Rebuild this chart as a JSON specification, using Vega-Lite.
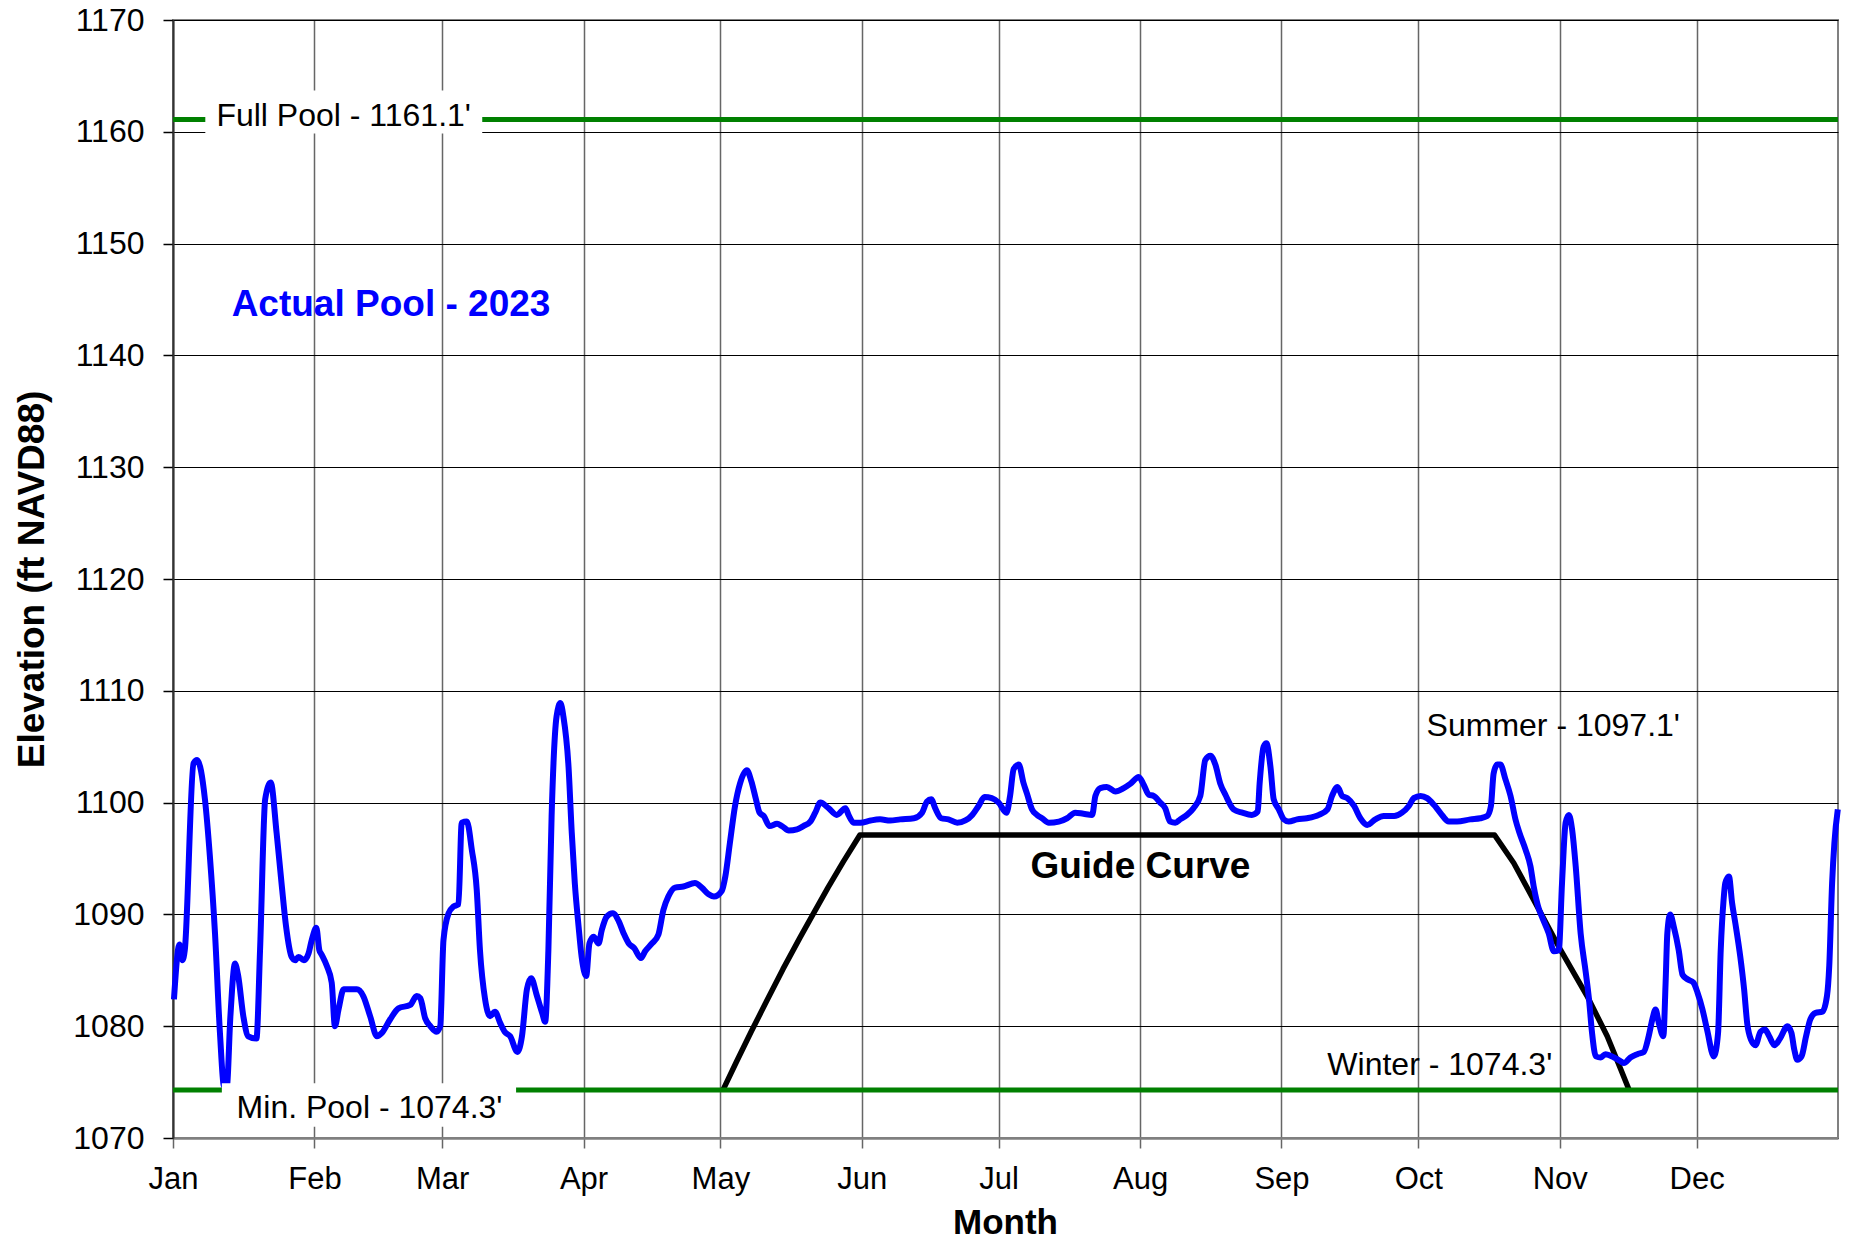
{
  "$schema": "https://vega.github.io/schema/vega-lite/v6.json",
  "width": 1665,
  "height": 1118,
  "autosize": {"type": "none"},
  "padding": {"left": 173, "top": 20, "right": 11, "bottom": 101},
  "background": "white",
  "config": {"font": "Liberation Sans", "view": {"stroke": "#808080", "strokeWidth": 2}},
  "datasets": {
    "pool": [
      {"t":"2023-01-01T05:00Z","v":1082.4},{"t":"2023-01-02T10:00Z","v":1087.3},{"t":"2023-01-03T02:00Z","v":1085.9},{"t":"2023-01-03T14:00Z","v":1086.8},
      {"t":"2023-01-05T12:00Z","v":1103.5},{"t":"2023-01-06T07:00Z","v":1103.8},{"t":"2023-01-08T00:00Z","v":1100.3},{"t":"2023-01-09T02:00Z","v":1095.2},
      {"t":"2023-01-10T05:00Z","v":1088.3},{"t":"2023-01-11T07:00Z","v":1079.4},{"t":"2023-01-12T05:00Z","v":1074.6},{"t":"2023-01-12T19:00Z","v":1074.6},
      {"t":"2023-01-13T14:00Z","v":1080.9},{"t":"2023-01-14T14:00Z","v":1085.6},{"t":"2023-01-15T07:00Z","v":1084.5},{"t":"2023-01-16T10:00Z","v":1080.9},
      {"t":"2023-01-17T12:00Z","v":1079.1},{"t":"2023-01-19T07:00Z","v":1078.9},{"t":"2023-01-20T02:00Z","v":1086.8},{"t":"2023-01-21T05:00Z","v":1100.3},
      {"t":"2023-01-22T10:00Z","v":1101.8},{"t":"2023-01-23T17:00Z","v":1097.3},{"t":"2023-01-24T19:00Z","v":1092.8},{"t":"2023-01-25T19:00Z","v":1088.9},
      {"t":"2023-01-27T00:00Z","v":1086.2},{"t":"2023-01-27T19:00Z","v":1085.9},{"t":"2023-01-28T12:00Z","v":1086.2},{"t":"2023-01-29T17:00Z","v":1085.9},
      {"t":"2023-01-30T17:00Z","v":1086.5},{"t":"2023-01-31T10:00Z","v":1087.7},{"t":"2023-02-01T10:00Z","v":1088.8},{"t":"2023-02-02T02:00Z","v":1086.8},
      {"t":"2023-02-02T14:00Z","v":1086.4},{"t":"2023-02-03T17:00Z","v":1085.4},{"t":"2023-02-04T19:00Z","v":1083.9},{"t":"2023-02-05T12:00Z","v":1080.0},
      {"t":"2023-02-06T07:00Z","v":1081.5},{"t":"2023-02-07T10:00Z","v":1083.3},{"t":"2023-02-08T12:00Z","v":1083.3},{"t":"2023-02-10T07:00Z","v":1083.3},
      {"t":"2023-02-11T17:00Z","v":1082.7},{"t":"2023-02-13T05:00Z","v":1080.9},{"t":"2023-02-14T17:00Z","v":1079.1},{"t":"2023-02-15T19:00Z","v":1079.4},
      {"t":"2023-02-17T14:00Z","v":1080.6},{"t":"2023-02-19T10:00Z","v":1081.6},{"t":"2023-02-22T00:00Z","v":1081.9},{"t":"2023-02-23T10:00Z","v":1082.7},
      {"t":"2023-02-24T05:00Z","v":1082.5},{"t":"2023-02-25T07:00Z","v":1080.7},{"t":"2023-02-26T10:00Z","v":1080.0},{"t":"2023-02-27T19:00Z","v":1079.5},
      {"t":"2023-02-28T14:00Z","v":1080.0},{"t":"2023-03-01T07:00Z","v":1087.7},{"t":"2023-03-02T10:00Z","v":1090.1},{"t":"2023-03-03T12:00Z","v":1090.7},
      {"t":"2023-03-04T14:00Z","v":1090.9},{"t":"2023-03-05T07:00Z","v":1098.2},{"t":"2023-03-06T10:00Z","v":1098.3},{"t":"2023-03-07T12:00Z","v":1095.8},
      {"t":"2023-03-08T14:00Z","v":1092.2},{"t":"2023-03-09T07:00Z","v":1086.8},{"t":"2023-03-10T10:00Z","v":1082.4},{"t":"2023-03-11T12:00Z","v":1080.9},
      {"t":"2023-03-12T14:00Z","v":1081.3},{"t":"2023-03-13T17:00Z","v":1080.3},{"t":"2023-03-14T17:00Z","v":1079.5},{"t":"2023-03-15T22:00Z","v":1079.1},
      {"t":"2023-03-17T12:00Z","v":1077.7},{"t":"2023-03-18T12:00Z","v":1079.1},{"t":"2023-03-19T14:00Z","v":1083.3},{"t":"2023-03-20T12:00Z","v":1084.3},
      {"t":"2023-03-21T19:00Z","v":1082.7},{"t":"2023-03-22T22:00Z","v":1081.2},{"t":"2023-03-23T14:00Z","v":1080.4},{"t":"2023-03-24T07:00Z","v":1086.8},
      {"t":"2023-03-25T00:00Z","v":1098.8},{"t":"2023-03-26T02:00Z","v":1107.7},{"t":"2023-03-26T22:00Z","v":1108.9},{"t":"2023-03-27T14:00Z","v":1107.7},
      {"t":"2023-03-28T17:00Z","v":1103.2},{"t":"2023-03-29T10:00Z","v":1097.3},{"t":"2023-03-30T02:00Z","v":1092.8},{"t":"2023-03-30T22:00Z","v":1088.9},
      {"t":"2023-03-31T14:00Z","v":1086.2},{"t":"2023-04-01T14:00Z","v":1084.5},{"t":"2023-04-02T07:00Z","v":1087.4},{"t":"2023-04-03T05:00Z","v":1088.0},
      {"t":"2023-04-04T07:00Z","v":1087.4},{"t":"2023-04-05T00:00Z","v":1088.6},{"t":"2023-04-06T02:00Z","v":1089.8},{"t":"2023-04-07T10:00Z","v":1090.1},
      {"t":"2023-04-08T17:00Z","v":1089.4},{"t":"2023-04-09T19:00Z","v":1088.3},{"t":"2023-04-10T22:00Z","v":1087.4},{"t":"2023-04-12T02:00Z","v":1087.0},
      {"t":"2023-04-13T14:00Z","v":1086.1},{"t":"2023-04-14T12:00Z","v":1086.7},{"t":"2023-04-16T00:00Z","v":1087.4},{"t":"2023-04-17T10:00Z","v":1088.2},
      {"t":"2023-04-18T12:00Z","v":1090.4},{"t":"2023-04-19T14:00Z","v":1091.6},{"t":"2023-04-21T02:00Z","v":1092.4},{"t":"2023-04-22T22:00Z","v":1092.5},
      {"t":"2023-04-25T10:00Z","v":1092.8},{"t":"2023-04-26T22:00Z","v":1092.4},{"t":"2023-04-28T10:00Z","v":1091.8},{"t":"2023-04-29T14:00Z","v":1091.6},
      {"t":"2023-05-01T07:00Z","v":1092.1},{"t":"2023-05-02T02:00Z","v":1093.4},{"t":"2023-05-03T02:00Z","v":1096.4},{"t":"2023-05-04T05:00Z","v":1099.7},
      {"t":"2023-05-05T07:00Z","v":1101.7},{"t":"2023-05-06T19:00Z","v":1102.9},{"t":"2023-05-07T19:00Z","v":1101.9},{"t":"2023-05-08T19:00Z","v":1100.3},
      {"t":"2023-05-09T14:00Z","v":1099.1},{"t":"2023-05-10T12:00Z","v":1098.8},{"t":"2023-05-11T19:00Z","v":1097.9},{"t":"2023-05-13T10:00Z","v":1098.1},
      {"t":"2023-05-14T12:00Z","v":1097.9},{"t":"2023-05-16T00:00Z","v":1097.5},{"t":"2023-05-17T19:00Z","v":1097.6},{"t":"2023-05-19T05:00Z","v":1097.9},
      {"t":"2023-05-20T17:00Z","v":1098.3},{"t":"2023-05-21T19:00Z","v":1099.1},{"t":"2023-05-22T22:00Z","v":1100.0},{"t":"2023-05-24T17:00Z","v":1099.5},
      {"t":"2023-05-26T12:00Z","v":1098.9},{"t":"2023-05-28T10:00Z","v":1099.5},{"t":"2023-05-29T02:00Z","v":1098.9},{"t":"2023-05-30T05:00Z","v":1098.2},
      {"t":"2023-05-31T17:00Z","v":1098.2},{"t":"2023-06-02T22:00Z","v":1098.4},{"t":"2023-06-05T00:00Z","v":1098.5},{"t":"2023-06-07T05:00Z","v":1098.4},
      {"t":"2023-06-09T10:00Z","v":1098.5},{"t":"2023-06-12T10:00Z","v":1098.6},{"t":"2023-06-14T05:00Z","v":1099.1},{"t":"2023-06-15T07:00Z","v":1100.1},
      {"t":"2023-06-16T05:00Z","v":1100.3},{"t":"2023-06-17T02:00Z","v":1099.5},{"t":"2023-06-18T10:00Z","v":1098.6},{"t":"2023-06-20T00:00Z","v":1098.5},
      {"t":"2023-06-21T22:00Z","v":1098.2},{"t":"2023-06-23T17:00Z","v":1098.4},{"t":"2023-06-25T05:00Z","v":1098.9},{"t":"2023-06-26T14:00Z","v":1099.7},
      {"t":"2023-06-27T22:00Z","v":1100.5},{"t":"2023-06-29T12:00Z","v":1100.4},{"t":"2023-07-01T00:00Z","v":1100.0},{"t":"2023-07-02T17:00Z","v":1099.1},
      {"t":"2023-07-03T12:00Z","v":1100.6},{"t":"2023-07-04T07:00Z","v":1103.0},{"t":"2023-07-05T10:00Z","v":1103.4},{"t":"2023-07-06T10:00Z","v":1101.8},
      {"t":"2023-07-07T05:00Z","v":1100.8},{"t":"2023-07-08T07:00Z","v":1099.4},{"t":"2023-07-09T10:00Z","v":1098.9},{"t":"2023-07-10T12:00Z","v":1098.6},
      {"t":"2023-07-12T00:00Z","v":1098.2},{"t":"2023-07-14T05:00Z","v":1098.3},{"t":"2023-07-16T00:00Z","v":1098.6},{"t":"2023-07-17T19:00Z","v":1099.1},
      {"t":"2023-07-19T14:00Z","v":1099.0},{"t":"2023-07-21T12:00Z","v":1098.9},{"t":"2023-07-22T05:00Z","v":1100.6},{"t":"2023-07-23T07:00Z","v":1101.3},
      {"t":"2023-07-24T17:00Z","v":1101.4},{"t":"2023-07-26T14:00Z","v":1101.0},{"t":"2023-07-28T10:00Z","v":1101.3},{"t":"2023-07-29T22:00Z","v":1101.7},
      {"t":"2023-07-31T17:00Z","v":1102.3},{"t":"2023-08-01T19:00Z","v":1101.6},{"t":"2023-08-02T22:00Z","v":1100.7},{"t":"2023-08-04T00:00Z","v":1100.6},
      {"t":"2023-08-05T10:00Z","v":1100.0},{"t":"2023-08-06T12:00Z","v":1099.5},{"t":"2023-08-07T14:00Z","v":1098.3},{"t":"2023-08-08T17:00Z","v":1098.2},
      {"t":"2023-08-09T19:00Z","v":1098.5},{"t":"2023-08-11T07:00Z","v":1098.9},{"t":"2023-08-12T17:00Z","v":1099.5},{"t":"2023-08-14T05:00Z","v":1100.6},
      {"t":"2023-08-15T07:00Z","v":1103.8},{"t":"2023-08-16T10:00Z","v":1104.2},{"t":"2023-08-17T12:00Z","v":1103.4},{"t":"2023-08-18T14:00Z","v":1101.7},
      {"t":"2023-08-19T17:00Z","v":1100.7},{"t":"2023-08-21T12:00Z","v":1099.4},{"t":"2023-08-23T10:00Z","v":1099.1},{"t":"2023-08-25T12:00Z","v":1098.9},
      {"t":"2023-08-26T19:00Z","v":1099.2},{"t":"2023-08-27T05:00Z","v":1101.7},{"t":"2023-08-28T02:00Z","v":1105.0},{"t":"2023-08-28T17:00Z","v":1105.3},
      {"t":"2023-08-29T14:00Z","v":1103.2},{"t":"2023-08-30T07:00Z","v":1100.3},{"t":"2023-08-31T10:00Z","v":1099.4},{"t":"2023-09-01T12:00Z","v":1098.5},
      {"t":"2023-09-02T14:00Z","v":1098.3},{"t":"2023-09-04T10:00Z","v":1098.5},{"t":"2023-09-06T14:00Z","v":1098.6},{"t":"2023-09-09T05:00Z","v":1098.9},
      {"t":"2023-09-11T02:00Z","v":1099.4},{"t":"2023-09-12T02:00Z","v":1100.6},{"t":"2023-09-13T07:00Z","v":1101.4},{"t":"2023-09-14T07:00Z","v":1100.6},
      {"t":"2023-09-15T10:00Z","v":1100.4},{"t":"2023-09-16T22:00Z","v":1099.7},{"t":"2023-09-18T07:00Z","v":1098.6},{"t":"2023-09-19T19:00Z","v":1098.0},
      {"t":"2023-09-21T14:00Z","v":1098.5},{"t":"2023-09-23T10:00Z","v":1098.8},{"t":"2023-09-25T17:00Z","v":1098.8},{"t":"2023-09-27T10:00Z","v":1099.1},
      {"t":"2023-09-28T22:00Z","v":1099.7},{"t":"2023-09-30T00:00Z","v":1100.4},{"t":"2023-10-01T12:00Z","v":1100.6},{"t":"2023-10-02T22:00Z","v":1100.4},
      {"t":"2023-10-04T10:00Z","v":1099.8},{"t":"2023-10-05T19:00Z","v":1099.1},{"t":"2023-10-07T17:00Z","v":1098.3},{"t":"2023-10-09T12:00Z","v":1098.3},
      {"t":"2023-10-12T10:00Z","v":1098.5},{"t":"2023-10-14T14:00Z","v":1098.6},{"t":"2023-10-16T02:00Z","v":1098.8},{"t":"2023-10-16T22:00Z","v":1099.7},
      {"t":"2023-10-17T12:00Z","v":1102.6},{"t":"2023-10-18T07:00Z","v":1103.4},{"t":"2023-10-19T00:00Z","v":1103.4},{"t":"2023-10-20T02:00Z","v":1102.1},
      {"t":"2023-10-21T05:00Z","v":1100.6},{"t":"2023-10-22T07:00Z","v":1098.5},{"t":"2023-10-23T02:00Z","v":1097.4},{"t":"2023-10-24T12:00Z","v":1095.8},
      {"t":"2023-10-25T14:00Z","v":1094.3},{"t":"2023-10-26T07:00Z","v":1092.5},{"t":"2023-10-27T10:00Z","v":1090.5},{"t":"2023-10-28T02:00Z","v":1089.8},
      {"t":"2023-10-29T14:00Z","v":1088.3},{"t":"2023-10-30T17:00Z","v":1086.7},{"t":"2023-10-31T19:00Z","v":1086.8},{"t":"2023-11-01T12:00Z","v":1092.8},
      {"t":"2023-11-02T07:00Z","v":1098.2},{"t":"2023-11-03T00:00Z","v":1098.9},{"t":"2023-11-03T17:00Z","v":1097.6},{"t":"2023-11-04T12:00Z","v":1094.3},
      {"t":"2023-11-05T14:00Z","v":1088.3},{"t":"2023-11-06T17:00Z","v":1084.8},{"t":"2023-11-07T10:00Z","v":1082.4},{"t":"2023-11-08T02:00Z","v":1079.4},
      {"t":"2023-11-08T22:00Z","v":1077.3},{"t":"2023-11-10T00:00Z","v":1077.2},{"t":"2023-11-11T00:00Z","v":1077.5},{"t":"2023-11-12T22:00Z","v":1077.2},
      {"t":"2023-11-14T05:00Z","v":1076.9},{"t":"2023-11-15T02:00Z","v":1076.7},{"t":"2023-11-16T12:00Z","v":1077.2},{"t":"2023-11-18T00:00Z","v":1077.5},
      {"t":"2023-11-19T10:00Z","v":1077.7},{"t":"2023-11-20T12:00Z","v":1079.1},{"t":"2023-11-21T07:00Z","v":1080.6},{"t":"2023-11-22T00:00Z","v":1081.5},
      {"t":"2023-11-22T17:00Z","v":1080.3},{"t":"2023-11-23T17:00Z","v":1079.1},{"t":"2023-11-24T05:00Z","v":1083.9},{"t":"2023-11-24T14:00Z","v":1088.3},
      {"t":"2023-11-25T05:00Z","v":1090.0},{"t":"2023-11-26T00:00Z","v":1088.9},{"t":"2023-11-27T02:00Z","v":1086.8},{"t":"2023-11-27T22:00Z","v":1084.6},
      {"t":"2023-11-29T00:00Z","v":1084.2},{"t":"2023-11-30T07:00Z","v":1083.9},{"t":"2023-12-01T05:00Z","v":1083.0},{"t":"2023-12-02T07:00Z","v":1081.5},
      {"t":"2023-12-03T07:00Z","v":1079.7},{"t":"2023-12-04T19:00Z","v":1077.3},{"t":"2023-12-05T17:00Z","v":1079.4},{"t":"2023-12-06T07:00Z","v":1086.8},
      {"t":"2023-12-06T22:00Z","v":1091.3},{"t":"2023-12-07T07:00Z","v":1092.8},{"t":"2023-12-08T02:00Z","v":1093.4},{"t":"2023-12-08T19:00Z","v":1091.0},
      {"t":"2023-12-09T12:00Z","v":1089.2},{"t":"2023-12-10T14:00Z","v":1086.2},{"t":"2023-12-11T10:00Z","v":1083.3},{"t":"2023-12-12T02:00Z","v":1080.3},
      {"t":"2023-12-12T22:00Z","v":1078.8},{"t":"2023-12-13T22:00Z","v":1078.3},{"t":"2023-12-15T00:00Z","v":1079.5},{"t":"2023-12-16T00:00Z","v":1079.7},
      {"t":"2023-12-16T22:00Z","v":1079.1},{"t":"2023-12-18T02:00Z","v":1078.3},{"t":"2023-12-19T07:00Z","v":1078.9},{"t":"2023-12-20T22:00Z","v":1080.0},
      {"t":"2023-12-21T19:00Z","v":1079.4},{"t":"2023-12-22T10:00Z","v":1077.9},{"t":"2023-12-23T02:00Z","v":1077.0},{"t":"2023-12-24T00:00Z","v":1077.3},
      {"t":"2023-12-25T00:00Z","v":1079.1},{"t":"2023-12-25T22:00Z","v":1080.6},{"t":"2023-12-27T02:00Z","v":1081.2},{"t":"2023-12-28T14:00Z","v":1081.3},
      {"t":"2023-12-29T14:00Z","v":1082.7},{"t":"2023-12-30T02:00Z","v":1085.4},{"t":"2023-12-30T17:00Z","v":1092.8},{"t":"2023-12-31T05:00Z","v":1096.4},
      {"t":"2023-12-31T23:00Z","v":1099.4}
    ],
    "guide": [
      {"t":"2023-05-01T14:00Z","v":1074.3},{"t":"2023-05-04T12:00Z","v":1076.8},{"t":"2023-05-07T19:00Z","v":1079.55},
      {"t":"2023-05-11T02:00Z","v":1082.2},{"t":"2023-05-14T17:00Z","v":1085.1},{"t":"2023-05-18T10:00Z","v":1087.9},
      {"t":"2023-05-21T07:00Z","v":1090.0},{"t":"2023-05-24T14:00Z","v":1092.4},{"t":"2023-05-27T22:00Z","v":1094.7},
      {"t":"2023-05-31T14:00Z","v":1097.1},
      {"t":"2023-10-17T17:00Z","v":1097.1},{"t":"2023-10-21T22:00Z","v":1094.6},{"t":"2023-10-26T07:00Z","v":1091.3},
      {"t":"2023-11-01T05:00Z","v":1086.8},{"t":"2023-11-07T00:00Z","v":1082.7},{"t":"2023-11-11T10:00Z","v":1079.1},
      {"t":"2023-11-14T10:00Z","v":1076.1},{"t":"2023-11-16T05:00Z","v":1074.3}
    ],
    "levels": [
      {"t":"2023-01-01T00:00Z","t2":"2024-01-01T00:00Z","v":1161.1},
      {"t":"2023-01-01T00:00Z","t2":"2024-01-01T00:00Z","v":1074.3}
    ],
    "boxes": [
      {"t":"2023-01-08T02:00Z","t2":"2023-03-09T19:00Z","v":1159.85,"v2":1163.7},
      {"t":"2023-01-11T17:00Z","t2":"2023-03-17T05:00Z","v":1071.0,"v2":1074.9}
    ],
    "plain": [
      {"t":"2023-02-07T10:00Z","v":1160.54,"label":"Full Pool - 1161.1'"},
      {"t":"2023-02-13T02:00Z","v":1071.75,"label":"Min. Pool - 1074.3'"},
      {"t":"2023-10-05T17:00Z","v":1075.6,"label":"Winter - 1074.3'"},
      {"t":"2023-10-30T14:00Z","v":1106.0,"label":"Summer - 1097.1'"}
    ],
    "guidelab": [{"t":"2023-08-01T02:00Z","v":1093.3,"label":"Guide Curve"}],
    "actuallab": [{"t":"2023-02-17T19:00Z","v":1143.5,"label":"Actual Pool - 2023"}]
  },
  "encoding": {
    "x": {
      "field": "t", "type": "temporal",
      "scale": {"type": "utc", "domain": [{"year":2023,"month":1,"date":1,"utc":true},{"year":2024,"month":1,"date":1,"utc":true}]},
      "axis": {
        "title": "Month",
        "values": [
          {"year":2023,"month":1,"date":1,"utc":true},{"year":2023,"month":2,"date":1,"utc":true},{"year":2023,"month":3,"date":1,"utc":true},
          {"year":2023,"month":4,"date":1,"utc":true},{"year":2023,"month":5,"date":1,"utc":true},{"year":2023,"month":6,"date":1,"utc":true},
          {"year":2023,"month":7,"date":1,"utc":true},{"year":2023,"month":8,"date":1,"utc":true},{"year":2023,"month":9,"date":1,"utc":true},
          {"year":2023,"month":10,"date":1,"utc":true},{"year":2023,"month":11,"date":1,"utc":true},{"year":2023,"month":12,"date":1,"utc":true}
        ],
        "labelExpr": "utcFormat(datum.value, '%b')",
        "labelFontSize": 31, "labelColor": "#000000", "labelPadding": 16,
        "labelFlush": false, "labelOverlap": false, "labelBound": false,
        "tickSize": 10, "tickColor": "#666666", "tickWidth": 1.5,
        "grid": true, "gridColor": "#666666", "gridWidth": 1.5,
        "domainColor": "#808080", "domainWidth": 2.5,
        "titleFontSize": 35, "titleFontWeight": "bold", "titleColor": "#000000",
        "titleX": 832, "titleY": 95, "titleBaseline": "alphabetic", "titleAlign": "center"
      }
    },
    "y": {
      "field": "v", "type": "quantitative",
      "scale": {"domain": [1070, 1170], "nice": false, "zero": false},
      "axis": {
        "title": "Elevation (ft NAVD88)",
        "values": [1070,1080,1090,1100,1110,1120,1130,1140,1150,1160,1170],
        "format": "d",
        "labelFontSize": 32, "labelColor": "#000000", "labelPadding": 19,
        "labelFlush": false, "labelOverlap": false, "labelBound": false,
        "tickSize": 10, "tickColor": "#000000", "tickWidth": 1.5,
        "grid": true, "gridColor": "#000000", "gridWidth": 1,
        "domainColor": "#333333", "domainWidth": 2,
        "titleFontSize": 37, "titleFontWeight": "bold", "titleColor": "#000000",
        "titleX": -130, "titleY": 559, "titleBaseline": "alphabetic", "titleAlign": "center", "titleAngle": 270
      }
    }
  },
  "layer": [
    {"data": {"name": "guide"}, "mark": {"type": "line", "color": "#000000", "strokeWidth": 5.5, "strokeJoin": "round"}},
    {"data": {"name": "pool"}, "mark": {"type": "line", "color": "#0000FF", "strokeWidth": 6, "interpolate": "monotone", "strokeJoin": "round"}},
    {"data": {"name": "levels"}, "mark": {"type": "rule", "color": "#008000", "strokeWidth": 5}, "encoding": {"x2": {"field": "t2"}}},
    {"data": {"name": "boxes"}, "mark": {"type": "rect", "fill": "#FFFFFF", "strokeWidth": 0}, "encoding": {"x2": {"field": "t2"}, "y2": {"field": "v2"}}},
    {"data": {"name": "plain"}, "mark": {"type": "text", "fontSize": 32, "color": "#000000", "align": "center", "baseline": "alphabetic"}, "encoding": {"text": {"field": "label"}}},
    {"data": {"name": "guidelab"}, "mark": {"type": "text", "fontSize": 37, "fontWeight": "bold", "color": "#000000", "align": "center", "baseline": "alphabetic"}, "encoding": {"text": {"field": "label"}}},
    {"data": {"name": "actuallab"}, "mark": {"type": "text", "fontSize": 37, "fontWeight": "bold", "color": "#0000FF", "align": "center", "baseline": "alphabetic"}, "encoding": {"text": {"field": "label"}}}
  ]
}
